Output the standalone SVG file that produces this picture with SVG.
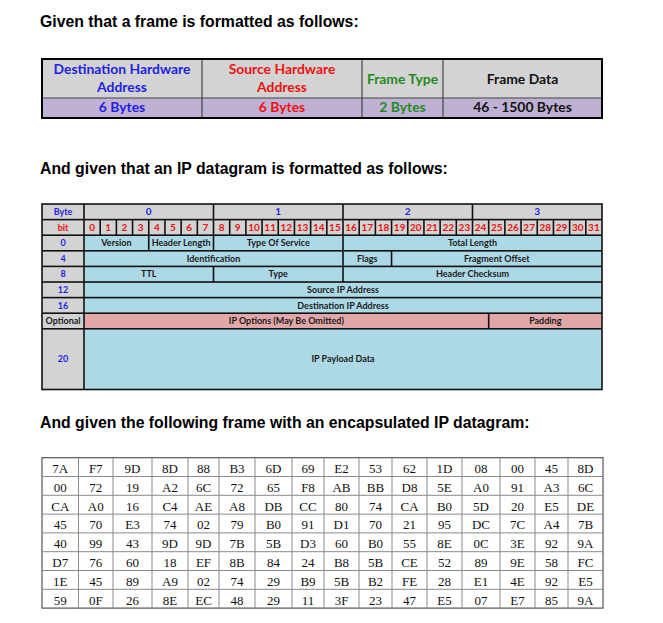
<svg xmlns="http://www.w3.org/2000/svg" width="663" height="623" viewBox="0 0 663 623">
<style>
.title{font-family:"Liberation Sans",Arial,sans-serif;font-weight:bold;font-size:15.8px;fill:#000}
.ft{font-family:Lato,"Open Sans",sans-serif;font-weight:bold;font-size:13.9px;text-anchor:middle}
.gray{fill:#d3d3d3}.purp{fill:#bfb1d3}.lb{fill:#add8e6}.pink{fill:#e2a8a8}
.ip{font-family:Lato,"Open Sans",sans-serif;font-weight:bold;font-size:9px;text-anchor:middle;fill:#1a1a1a}
.ipb{font-family:Lato,"Open Sans",sans-serif;font-weight:bold;font-size:10px;text-anchor:middle}
.hx{font-family:"Liberation Serif","Times New Roman",serif;font-size:13px;text-anchor:middle;fill:#111}
.hl{stroke:#8a8a8a;stroke-width:1;fill:none}
.blue{fill:#1f1fe6}.red{fill:#f01010}.green{fill:#1f8a1f}.blk{fill:#111}
</style>

<g id="titles">
<text class="title" x="40" y="27">Given that a frame is formatted as follows:</text>
<text class="title" x="40" y="174">And given that an IP datagram is formatted as follows:</text>
<text class="title" x="40" y="428">And given the following frame with an encapsulated IP datagram:</text>
</g>

<g id="frame-table">
<rect class="gray" x="42" y="59" width="560" height="39"/>
<rect class="purp" x="42" y="98" width="560" height="20"/>
<g stroke="#444" stroke-width="1.2">
<line x1="42" y1="98" x2="602" y2="98"/>
<line x1="202" y1="59" x2="202" y2="118"/>
<line x1="362" y1="59" x2="362" y2="118"/>
<line x1="443" y1="59" x2="443" y2="118"/>
</g>
<rect x="42" y="59" width="560" height="59" fill="none" stroke="#000" stroke-width="2"/>
<g id="ft-dest">
<text class="ft blue" x="122" y="73.5">Destination Hardware</text>
<text class="ft blue" x="122" y="91.5">Address</text>
<text class="ft blue" x="122" y="112">6 Bytes</text>
</g>
<g id="ft-src">
<text class="ft red" x="282" y="73.5">Source Hardware</text>
<text class="ft red" x="282" y="91.5">Address</text>
<text class="ft red" x="282" y="112">6 Bytes</text>
</g>
<g id="ft-type">
<text class="ft green" x="402.5" y="83.5">Frame Type</text>
<text class="ft green" x="402.5" y="112">2 Bytes</text>
</g>
<g id="ft-data">
<text class="ft blk" x="522.5" y="83.5">Frame Data</text>
<text class="ft blk" x="522.5" y="112">46 - 1500 Bytes</text>
</g>
</g>

<g id="ip-table">
<rect x="41.2" y="203.2" width="561.6" height="187.1" fill="#111"/>
<g id="ip-labels">
<rect class="gray" x="42.8" y="204.8" width="40.4" height="14"/>
<rect class="gray" x="42.8" y="220.4" width="40.4" height="14"/>
<rect class="gray" x="42.8" y="236" width="40.4" height="14"/>
<rect class="gray" x="42.8" y="251.6" width="40.4" height="14"/>
<rect class="gray" x="42.8" y="267.2" width="40.4" height="14"/>
<rect class="gray" x="42.8" y="282.8" width="40.4" height="14"/>
<rect class="gray" x="42.8" y="298.4" width="40.4" height="14"/>
<rect class="gray" x="42.8" y="314" width="40.4" height="14"/>
<rect class="gray" x="42.8" y="329.6" width="40.4" height="59.1"/>
<text class="ip blue" x="63" y="215">Byte</text>
<text class="ip red" x="63" y="230.6">bit</text>
<text class="ip blue" x="63" y="246.2">0</text>
<text class="ip blue" x="63" y="261.8">4</text>
<text class="ip blue" x="63" y="277.4">8</text>
<text class="ip blue" x="63" y="293">12</text>
<text class="ip blue" x="63" y="308.6">16</text>
<text class="ip" x="63" y="324.2">Optional</text>
<text class="ip blue" x="63" y="362.3">20</text>
</g>
<g id="ip-bytes">
<rect class="gray" x="84.8" y="204.8" width="127.9" height="14"/>
<rect class="gray" x="214.3" y="204.8" width="127.9" height="14"/>
<rect class="gray" x="343.8" y="204.8" width="127.9" height="14"/>
<rect class="gray" x="473.3" y="204.8" width="127.9" height="14"/>
<text class="ipb blue" x="148.75" y="215.4">0</text>
<text class="ipb blue" x="278.25" y="215.4">1</text>
<text class="ipb blue" x="407.75" y="215.4">2</text>
<text class="ipb blue" x="537.25" y="215.4">3</text>
</g>
<g id="ip-bits" class="gray">
<rect x="84.8" y="220.4" width="14.59" height="14"/><rect x="100.99" y="220.4" width="14.59" height="14"/><rect x="117.18" y="220.4" width="14.59" height="14"/><rect x="133.36" y="220.4" width="14.59" height="14"/>
<rect x="149.55" y="220.4" width="14.59" height="14"/><rect x="165.74" y="220.4" width="14.59" height="14"/><rect x="181.93" y="220.4" width="14.59" height="14"/><rect x="198.11" y="220.4" width="14.59" height="14"/>
<rect x="214.3" y="220.4" width="14.59" height="14"/><rect x="230.49" y="220.4" width="14.59" height="14"/><rect x="246.68" y="220.4" width="14.59" height="14"/><rect x="262.86" y="220.4" width="14.59" height="14"/>
<rect x="279.05" y="220.4" width="14.59" height="14"/><rect x="295.24" y="220.4" width="14.59" height="14"/><rect x="311.43" y="220.4" width="14.59" height="14"/><rect x="327.61" y="220.4" width="14.59" height="14"/>
<rect x="343.8" y="220.4" width="14.59" height="14"/><rect x="359.99" y="220.4" width="14.59" height="14"/><rect x="376.18" y="220.4" width="14.59" height="14"/><rect x="392.36" y="220.4" width="14.59" height="14"/>
<rect x="408.55" y="220.4" width="14.59" height="14"/><rect x="424.74" y="220.4" width="14.59" height="14"/><rect x="440.93" y="220.4" width="14.59" height="14"/><rect x="457.11" y="220.4" width="14.59" height="14"/>
<rect x="473.3" y="220.4" width="14.59" height="14"/><rect x="489.49" y="220.4" width="14.59" height="14"/><rect x="505.68" y="220.4" width="14.59" height="14"/><rect x="521.86" y="220.4" width="14.59" height="14"/>
<rect x="538.05" y="220.4" width="14.59" height="14"/><rect x="554.24" y="220.4" width="14.59" height="14"/><rect x="570.43" y="220.4" width="14.59" height="14"/><rect x="586.61" y="220.4" width="14.59" height="14"/>
</g>
<g id="ip-bit-numbers" class="ipb red">
<text x="92.09" y="231">0</text><text x="108.28" y="231">1</text><text x="124.47" y="231">2</text><text x="140.65" y="231">3</text>
<text x="156.84" y="231">4</text><text x="173.03" y="231">5</text><text x="189.22" y="231">6</text><text x="205.4" y="231">7</text>
<text x="221.59" y="231">8</text><text x="237.78" y="231">9</text><text x="253.97" y="231">10</text><text x="270.15" y="231">11</text>
<text x="286.34" y="231">12</text><text x="302.53" y="231">13</text><text x="318.72" y="231">14</text><text x="334.9" y="231">15</text>
<text x="351.09" y="231">16</text><text x="367.28" y="231">17</text><text x="383.47" y="231">18</text><text x="399.65" y="231">19</text>
<text x="415.84" y="231">20</text><text x="432.03" y="231">21</text><text x="448.22" y="231">22</text><text x="464.4" y="231">23</text>
<text x="480.59" y="231">24</text><text x="496.78" y="231">25</text><text x="512.97" y="231">26</text><text x="529.15" y="231">27</text>
<text x="545.34" y="231">28</text><text x="561.53" y="231">29</text><text x="577.72" y="231">30</text><text x="593.9" y="231">31</text>
</g>
<g id="ip-row0">
<rect class="lb" x="84.8" y="236" width="63.15" height="14"/>
<rect class="lb" x="149.55" y="236" width="63.15" height="14"/>
<rect class="lb" x="214.3" y="236" width="127.9" height="14"/>
<rect class="lb" x="343.8" y="236" width="257.4" height="14"/>
<text class="ip" x="116.4" y="246.2">Version</text>
<text class="ip" x="181.1" y="246.2">Header Length</text>
<text class="ip" x="278.25" y="246.2">Type Of Service</text>
<text class="ip" x="472.5" y="246.2">Total Length</text>
</g>
<g id="ip-row4">
<rect class="lb" x="84.8" y="251.6" width="257.4" height="14"/>
<rect class="lb" x="343.8" y="251.6" width="46.96" height="14"/>
<rect class="lb" x="392.36" y="251.6" width="208.84" height="14"/>
<text class="ip" x="213.5" y="261.8">Identification</text>
<text class="ip" x="367.3" y="261.8">Flags</text>
<text class="ip" x="496.8" y="261.8">Fragment Offset</text>
</g>
<g id="ip-row8">
<rect class="lb" x="84.8" y="267.2" width="127.9" height="14"/>
<rect class="lb" x="214.3" y="267.2" width="127.9" height="14"/>
<rect class="lb" x="343.8" y="267.2" width="257.4" height="14"/>
<text class="ip" x="148.75" y="277.4">TTL</text>
<text class="ip" x="278.25" y="277.4">Type</text>
<text class="ip" x="472.5" y="277.4">Header Checksum</text>
</g>
<g id="ip-row12">
<rect class="lb" x="84.8" y="282.8" width="516.4" height="14"/>
<text class="ip" x="343" y="293">Source IP Address</text>
</g>
<g id="ip-row16">
<rect class="lb" x="84.8" y="298.4" width="516.4" height="14"/>
<text class="ip" x="343" y="308.6">Destination IP Address</text>
</g>
<g id="ip-options">
<rect class="pink" x="84.8" y="314" width="403.09" height="14"/>
<rect class="pink" x="489.49" y="314" width="111.71" height="14"/>
<text class="ip" x="286.3" y="324.2">IP Options (May Be Omitted)</text>
<text class="ip" x="545.3" y="324.2">Padding</text>
</g>
<g id="ip-payload">
<rect class="lb" x="84.8" y="329.6" width="516.4" height="59.1"/>
<text class="ip" x="343" y="362.3">IP Payload Data</text>
</g>
</g>

<g id="hex-table">
<rect x="42" y="457.7" width="561" height="150.4" fill="#fff" stroke="#555" stroke-width="1.2"/>
<g class="hl">
<line x1="42" y1="476.5" x2="603" y2="476.5"/><line x1="42" y1="495.3" x2="603" y2="495.3"/><line x1="42" y1="514.1" x2="603" y2="514.1"/><line x1="42" y1="532.9" x2="603" y2="532.9"/><line x1="42" y1="551.7" x2="603" y2="551.7"/><line x1="42" y1="570.5" x2="603" y2="570.5"/><line x1="42" y1="589.3" x2="603" y2="589.3"/>
<line x1="78.5" y1="457.7" x2="78.5" y2="608.1"/><line x1="113" y1="457.7" x2="113" y2="608.1"/><line x1="152" y1="457.7" x2="152" y2="608.1"/><line x1="188" y1="457.7" x2="188" y2="608.1"/><line x1="219" y1="457.7" x2="219" y2="608.1"/><line x1="255" y1="457.7" x2="255" y2="608.1"/><line x1="292" y1="457.7" x2="292" y2="608.1"/><line x1="324" y1="457.7" x2="324" y2="608.1"/>
<line x1="359" y1="457.7" x2="359" y2="608.1"/><line x1="392" y1="457.7" x2="392" y2="608.1"/><line x1="427" y1="457.7" x2="427" y2="608.1"/><line x1="462" y1="457.7" x2="462" y2="608.1"/><line x1="500" y1="457.7" x2="500" y2="608.1"/><line x1="535" y1="457.7" x2="535" y2="608.1"/><line x1="568" y1="457.7" x2="568" y2="608.1"/>
</g>
<g class="hx">
<text y="472.9"><tspan x="60.25">7A</tspan><tspan x="95.75">F7</tspan><tspan x="132.5">9D</tspan><tspan x="170">8D</tspan><tspan x="203.5">88</tspan><tspan x="237">B3</tspan><tspan x="273.5">6D</tspan><tspan x="308">69</tspan><tspan x="341.5">E2</tspan><tspan x="375.5">53</tspan><tspan x="409.5">62</tspan><tspan x="444.5">1D</tspan><tspan x="481">08</tspan><tspan x="517.5">00</tspan><tspan x="551.5">45</tspan><tspan x="585.5">8D</tspan></text>
<text y="491.7"><tspan x="60.25">00</tspan><tspan x="95.75">72</tspan><tspan x="132.5">19</tspan><tspan x="170">A2</tspan><tspan x="203.5">6C</tspan><tspan x="237">72</tspan><tspan x="273.5">65</tspan><tspan x="308">F8</tspan><tspan x="341.5">AB</tspan><tspan x="375.5">BB</tspan><tspan x="409.5">D8</tspan><tspan x="444.5">5E</tspan><tspan x="481">A0</tspan><tspan x="517.5">91</tspan><tspan x="551.5">A3</tspan><tspan x="585.5">6C</tspan></text>
<text y="510.5"><tspan x="60.25">CA</tspan><tspan x="95.75">A0</tspan><tspan x="132.5">16</tspan><tspan x="170">C4</tspan><tspan x="203.5">AE</tspan><tspan x="237">A8</tspan><tspan x="273.5">DB</tspan><tspan x="308">CC</tspan><tspan x="341.5">80</tspan><tspan x="375.5">74</tspan><tspan x="409.5">CA</tspan><tspan x="444.5">B0</tspan><tspan x="481">5D</tspan><tspan x="517.5">20</tspan><tspan x="551.5">E5</tspan><tspan x="585.5">DE</tspan></text>
<text y="529.3"><tspan x="60.25">45</tspan><tspan x="95.75">70</tspan><tspan x="132.5">E3</tspan><tspan x="170">74</tspan><tspan x="203.5">02</tspan><tspan x="237">79</tspan><tspan x="273.5">B0</tspan><tspan x="308">91</tspan><tspan x="341.5">D1</tspan><tspan x="375.5">70</tspan><tspan x="409.5">21</tspan><tspan x="444.5">95</tspan><tspan x="481">DC</tspan><tspan x="517.5">7C</tspan><tspan x="551.5">A4</tspan><tspan x="585.5">7B</tspan></text>
<text y="548.1"><tspan x="60.25">40</tspan><tspan x="95.75">99</tspan><tspan x="132.5">43</tspan><tspan x="170">9D</tspan><tspan x="203.5">9D</tspan><tspan x="237">7B</tspan><tspan x="273.5">5B</tspan><tspan x="308">D3</tspan><tspan x="341.5">60</tspan><tspan x="375.5">B0</tspan><tspan x="409.5">55</tspan><tspan x="444.5">8E</tspan><tspan x="481">0C</tspan><tspan x="517.5">3E</tspan><tspan x="551.5">92</tspan><tspan x="585.5">9A</tspan></text>
<text y="566.9"><tspan x="60.25">D7</tspan><tspan x="95.75">76</tspan><tspan x="132.5">60</tspan><tspan x="170">18</tspan><tspan x="203.5">EF</tspan><tspan x="237">8B</tspan><tspan x="273.5">84</tspan><tspan x="308">24</tspan><tspan x="341.5">B8</tspan><tspan x="375.5">5B</tspan><tspan x="409.5">CE</tspan><tspan x="444.5">52</tspan><tspan x="481">89</tspan><tspan x="517.5">9E</tspan><tspan x="551.5">58</tspan><tspan x="585.5">FC</tspan></text>
<text y="585.7"><tspan x="60.25">1E</tspan><tspan x="95.75">45</tspan><tspan x="132.5">89</tspan><tspan x="170">A9</tspan><tspan x="203.5">02</tspan><tspan x="237">74</tspan><tspan x="273.5">29</tspan><tspan x="308">B9</tspan><tspan x="341.5">5B</tspan><tspan x="375.5">B2</tspan><tspan x="409.5">FE</tspan><tspan x="444.5">28</tspan><tspan x="481">E1</tspan><tspan x="517.5">4E</tspan><tspan x="551.5">92</tspan><tspan x="585.5">E5</tspan></text>
<text y="604.5"><tspan x="60.25">59</tspan><tspan x="95.75">0F</tspan><tspan x="132.5">26</tspan><tspan x="170">8E</tspan><tspan x="203.5">EC</tspan><tspan x="237">48</tspan><tspan x="273.5">29</tspan><tspan x="308">11</tspan><tspan x="341.5">3F</tspan><tspan x="375.5">23</tspan><tspan x="409.5">47</tspan><tspan x="444.5">E5</tspan><tspan x="481">07</tspan><tspan x="517.5">E7</tspan><tspan x="551.5">85</tspan><tspan x="585.5">9A</tspan></text>
</g>
</g>
</svg>
